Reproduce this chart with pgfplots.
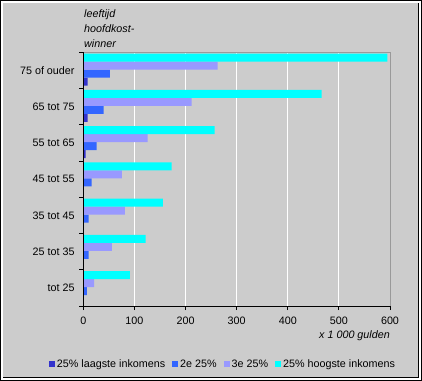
\documentclass[border=0pt]{standalone}
\usepackage{pgfplots}
\pgfplotsset{compat=1.18}
\usepackage{fontspec}
\setmainfont{Liberation Sans}
\definecolor{bgc}{HTML}{CCCCCC}
\definecolor{cA}{HTML}{3333CC}
\definecolor{cB}{HTML}{3366FF}
\definecolor{cC}{HTML}{9999FF}
\definecolor{cD}{HTML}{00FFFF}
\definecolor{brd}{HTML}{999999}
\begin{document}
\begin{tikzpicture}[x=1bp,y=1bp]
\fontsize{10.8}{12.5}\selectfont
\useasboundingbox (0,0) rectangle (422,381);
\fill[black] (0,0) rectangle (422,381);
\fill[white] (1.5,1.5) rectangle (420.5,379.5);
\fill[black] (3.3,2.7) rectangle (419.3,377.7);
\fill[bgc] (3.3,3.7) rectangle (418.3,377.7);
\node[anchor=base west,font=\itshape\fontsize{10.8}{12.5}\selectfont,inner sep=0] at (84,363.5) {leeftijd};
\node[anchor=base west,font=\itshape\fontsize{10.8}{12.5}\selectfont,inner sep=0] at (84,348.3) {hoofdkost-};
\node[anchor=base west,font=\itshape\fontsize{10.8}{12.5}\selectfont,inner sep=0] at (84,333.1) {winner};
\node[anchor=base east,font=\itshape\fontsize{10.8}{12.5}\selectfont,inner sep=0] at (390,42.7) {x 1 000 gulden};
\begin{axis}[
  at={(83.3bp,75bp)}, anchor=south west,
  scale only axis, width=306.7bp, height=253.7bp,
  xmin=0, xmax=600, ymin=-0.5, ymax=6.5,
  xtick={0,100,...,600},
  ytick={-0.5,0.5,...,6.5},
  yticklabels={},
  extra y ticks={0,...,6},
  extra y tick labels={tot 25,25 tot 35,35 tot 45,45 tot 55,55 tot 65,65 tot 75,75 of ouder},
  extra y tick style={major tick length=0pt, yticklabel style={xshift=-5bp}, grid=none},
  tick pos=left,
  axis line style={draw=none},
  xmajorgrids, major grid style={white, line width=0.8bp},
  tick style={black, line width=0.8bp},
  major tick length=4bp,
  xtick align=outside, ytick align=center,
  tick label style={font=\fontsize{10.8}{12.5}\selectfont},
  /pgf/number format/assume math mode=true,
  xticklabel style={yshift=-3bp},
  xbar, bar width=8bp,
  legend columns=4,
  legend style={draw=none, fill=none, at={(0.4555,-0.2295)}, anchor=center,
    font=\fontsize{10.8}{12.5}\selectfont,
    /tikz/every even column/.append style={column sep=5bp}},
  legend image code/.code={\fill[#1,draw=none] (0bp,-3bp) rectangle (6bp,3bp);},
  clip=false,
]
\addplot[fill=cA, draw=none, bar shift=-11.2bp] coordinates {(0.5,0) (0.5,1) (0.5,2) (1,3) (4.6,4) (8.5,5) (8.5,6)};
\addlegendentry{25\% laagste inkomens}
\addplot[fill=cB, draw=none, bar shift=-3.2bp] coordinates {(7.2,0) (10.4,1) (10.4,2) (16.3,3) (26,4) (40,5) (52,6)};
\addlegendentry{2e 25\%}
\addplot[fill=cC, draw=none, bar shift=4.8bp] coordinates {(21,0) (56,1) (81.5,2) (75.6,3) (126,4) (212,5) (262.6,6)};
\addlegendentry{3e 25\%}
\addplot[fill=cD, draw=none, bar shift=12.8bp] coordinates {(91,0) (122,1) (155.7,2) (172.7,3) (257,4) (466,5) (595,6)};
\addlegendentry{25\% hoogste inkomens}
\draw[brd, line width=0.8bp] (axis cs:0,6.5) -- (axis cs:600,6.5) -- (axis cs:600,-0.5);
\draw[black, line width=0.8bp] (axis cs:0,6.5) -- (axis cs:0,-0.5) -- (axis cs:600,-0.5);
\end{axis}
\end{tikzpicture}
\end{document}
